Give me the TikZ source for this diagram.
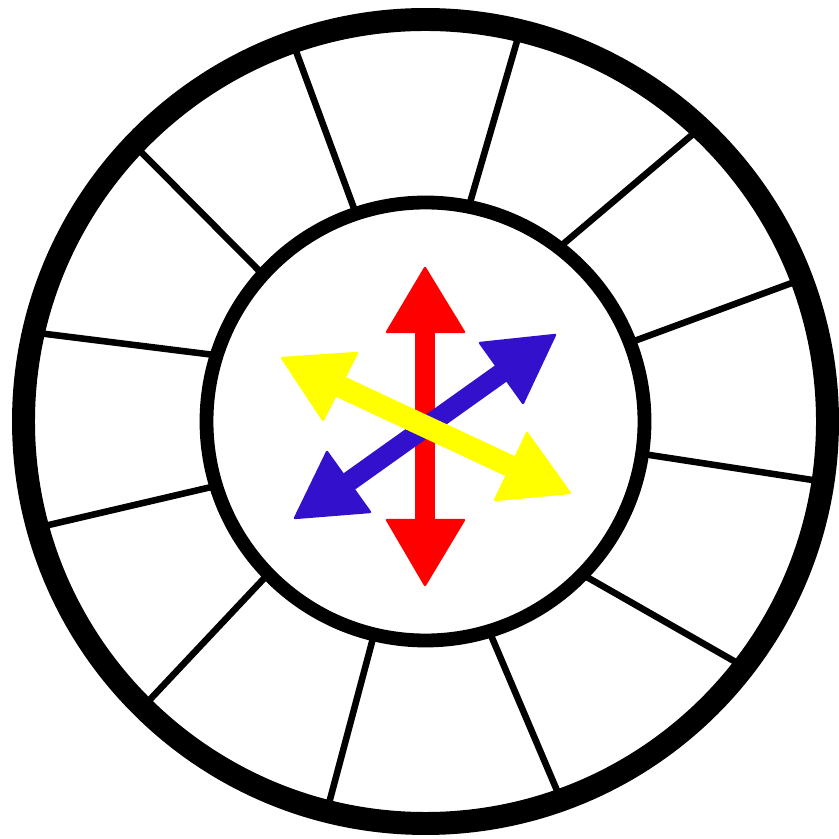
\documentclass[tikz,border=0pt]{standalone}
\usetikzlibrary{calc}
\definecolor{arrred}{RGB}{255,0,0}
\definecolor{arrblue}{RGB}{51,17,204}
\definecolor{arryellow}{RGB}{255,255,0}
\begin{document}
\begin{tikzpicture}[x=0.03cm,y=0.03cm,
  spoke/.style={line width=5.6pt},
  shaft/.style={line width=17pt},
  headtri/.style={line width=2pt, line join=round}]
\useasboundingbox (0,0) rectangle (839,839);
\fill[white] (0,0) rectangle (839,839);
\coordinate (O) at (425.5,417.5);
\foreach \a/\b in {108.5/109.3, 78.6/76.4, 52.5/46.9, 21.1/20.7, -8.5/-8.6, -44.3/-37.6, -73.1/-70.3, -103.6/-104.2, -135.9/-134.7, -162.9/-164.7, 162.4/167.2, 137.9/136.5}
  \draw[spoke] ($(O)+(\a:219)$) -- ($(O)+(\b:402)$);
\draw[line width=19.6pt] (O) circle (402);
\draw[line width=11.8pt] (O) circle (219);
% red arrow
\coordinate (rA) at (425,319);
\coordinate (rB) at (425,507);
\draw[shaft, arrred] (rA) -- (rB);
\filldraw[headtri, arrred] (425,571) -- (387,507) -- (464,507) -- cycle;
\filldraw[headtri, arrred] (425,254) -- (387,319) -- (464,319) -- cycle;
% blue arrow
\coordinate (bA) at (348.5,357);
\coordinate (bB) at (501.5,466);
\draw[shaft, arrblue] (bA) -- (bB);
\filldraw[headtri, arrblue] (555,504) -- (480,496) -- (523,436) -- cycle;
\filldraw[headtri, arrblue] (295,321) -- (327,387) -- (370,327) -- cycle;
% yellow arrow
\coordinate (yA) at (340,452.5);
\coordinate (yB) at (511,372.5);
\draw[shaft, arryellow, line width=18.8pt] (yA) -- (yB);
\filldraw[headtri, arryellow] (282,481) -- (357,486) -- (323,419) -- cycle;
\filldraw[headtri, arryellow] (570,346) -- (527,406) -- (495,339) -- cycle;
\end{tikzpicture}
\end{document}
